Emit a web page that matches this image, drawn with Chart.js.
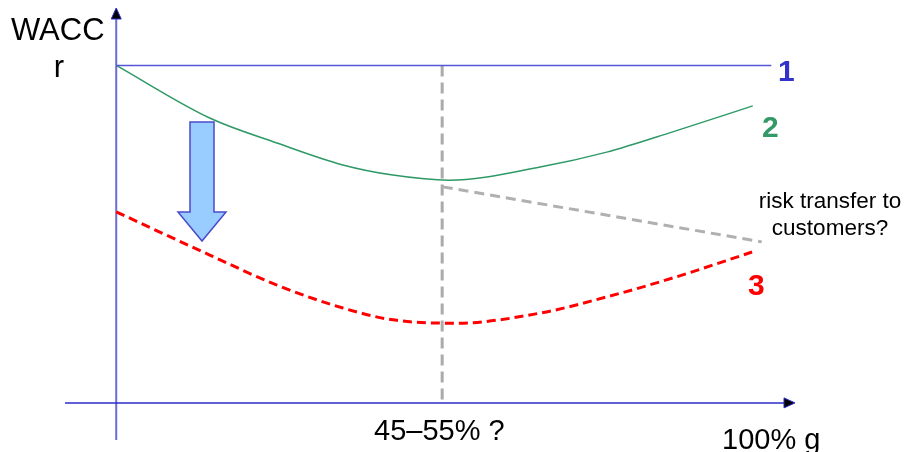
<!DOCTYPE html>
<html>
<head>
<meta charset="utf-8">
<script src="https://cdn.jsdelivr.net/npm/chart.js@4"></script>
<style>
  html, body { margin: 0; padding: 0; background: #fff; }
  #wrap { width: 909px; height: 452px; }
</style>
</head>
<body>
<div id="wrap"><canvas id="wacc"></canvas></div>
<script>
// g = share of debt (%), r = WACC (arbitrary units)
const line1X = [0, 102.3];
const line1Y = [100, 100];
const curve2X = [0, 14.6, 25.1, 35.4, 43.2, 52, 66.2, 76.6, 86.9, 99.4];
const curve2Y = [100, 84.4, 77.0, 70.5, 67.5, 66.0, 69.9, 74.3, 80.3, 88.0];
const curve3X = [0, 14.6, 25.1, 35.4, 43.2, 53, 66.2, 76.6, 86.9, 99.3];
const curve3Y = [56.6, 43.8, 34.9, 28.1, 24.6, 23.6, 26.6, 31.4, 37.0, 44.7];
const transferX = [51.0, 100.8];
const transferY = [64.0, 47.7];
const optimumX = [50.9, 50.9];
const optimumY = [100, 0];

function pts(xs, ys) {
  return xs.map((x, i) => ({ x: x, y: ys[i] }));
}

const AXIS_BLUE = '#6b6bd9';
const DARK_BLUE = '#2b2bcc';

function arrowHead(ctx, x, y, dir) {
  ctx.beginPath();
  if (dir === 'up') {
    ctx.moveTo(x, y);
    ctx.lineTo(x - 5, y + 11);
    ctx.lineTo(x + 5, y + 11);
  } else {
    ctx.moveTo(x, y);
    ctx.lineTo(x - 11, y - 5);
    ctx.lineTo(x - 11, y + 5);
  }
  ctx.closePath();
  ctx.fillStyle = '#000';
  ctx.fill();
  ctx.strokeStyle = DARK_BLUE;
  ctx.lineWidth = 1;
  ctx.stroke();
}

const decorations = {
  id: 'decorations',
  beforeDatasetsDraw(chart) {
    const ctx = chart.ctx;
    const a = chart.chartArea;
    const xs = chart.scales.x, ys = chart.scales.y;
    const x0 = xs.getPixelForValue(0);
    const y0 = ys.getPixelForValue(0);
    ctx.save();
    // y axis
    ctx.strokeStyle = AXIS_BLUE;
    ctx.lineWidth = 2;
    ctx.beginPath();
    ctx.moveTo(x0, a.bottom);
    ctx.lineTo(x0, a.top + 8);
    ctx.stroke();
    arrowHead(ctx, x0, a.top, 'up');
    // x axis
    ctx.strokeStyle = DARK_BLUE;
    ctx.lineWidth = 1.5;
    ctx.beginPath();
    ctx.moveTo(a.left, y0);
    ctx.lineTo(a.right - 8, y0);
    ctx.stroke();
    arrowHead(ctx, a.right, y0, 'right');
    ctx.restore();
  },
  afterDraw(chart) {
    const ctx = chart.ctx;
    ctx.save();
    // big down arrow
    ctx.beginPath();
    ctx.moveTo(190, 122);
    ctx.lineTo(214, 122);
    ctx.lineTo(214, 212);
    ctx.lineTo(226, 212);
    ctx.lineTo(202, 241);
    ctx.lineTo(178, 212);
    ctx.lineTo(190, 212);
    ctx.closePath();
    ctx.fillStyle = '#99ccff';
    ctx.fill();
    ctx.strokeStyle = '#4a4acc';
    ctx.lineWidth = 1.5;
    ctx.stroke();

    ctx.textBaseline = 'alphabetic';
    ctx.fillStyle = '#000';
    ctx.font = '31px "Liberation Sans", Arial, sans-serif';
    ctx.textAlign = 'left';
    ctx.fillText('WACC', 11, 40);
    ctx.textAlign = 'center';
    ctx.fillText('r', 59, 77);
    ctx.font = '29px "Liberation Sans", Arial, sans-serif';
    ctx.textAlign = 'left';
    ctx.fillText('45\u201355% ?', 374, 440);
    ctx.fillText('100% g', 722, 449);

    ctx.font = 'bold 30px "Liberation Sans", Arial, sans-serif';
    ctx.fillStyle = '#3333cc';
    ctx.fillText('1', 778, 81);
    ctx.fillStyle = '#339966';
    ctx.fillText('2', 762, 137);
    ctx.fillStyle = '#ff0000';
    ctx.fillText('3', 748, 295);

    ctx.fillStyle = '#000';
    ctx.font = '22.5px "Liberation Sans", Arial, sans-serif';
    ctx.textAlign = 'center';
    ctx.fillText('risk transfer to', 830, 208);
    ctx.fillText('customers?', 830, 235);
    ctx.restore();
  }
};

new Chart(document.getElementById('wacc'), {
  type: 'line',
  data: {
    datasets: [
      { data: pts(line1X, line1Y), borderColor: '#5555d5', borderWidth: 1.5, tension: 0 },
      { data: pts(curve2X, curve2Y), borderColor: '#2e9966', borderWidth: 1.5, cubicInterpolationMode: 'monotone' },
      { data: pts(transferX, transferY), borderColor: '#b0b0b0', borderWidth: 3, borderDash: [10, 6], tension: 0 },
      { data: pts(optimumX, optimumY), borderColor: '#aaaaaa', borderWidth: 3, borderDash: [11, 6], tension: 0 },
      { data: pts(curve3X, curve3Y), borderColor: '#ff0000', borderWidth: 3, borderDash: [9, 5], cubicInterpolationMode: 'monotone' }
    ]
  },
  options: {
    responsive: true,
    maintainAspectRatio: false,
    animation: false,
    layout: { padding: { left: 65, right: 114, top: 8, bottom: 12 } },
    elements: { point: { radius: 0 } },
    plugins: { legend: { display: false }, tooltip: { enabled: false } },
    scales: {
      x: { type: 'linear', min: -8, max: 106, display: false },
      y: { type: 'linear', min: -11, max: 117, display: false }
    }
  },
  plugins: [decorations]
});
</script>
</body>
</html>
